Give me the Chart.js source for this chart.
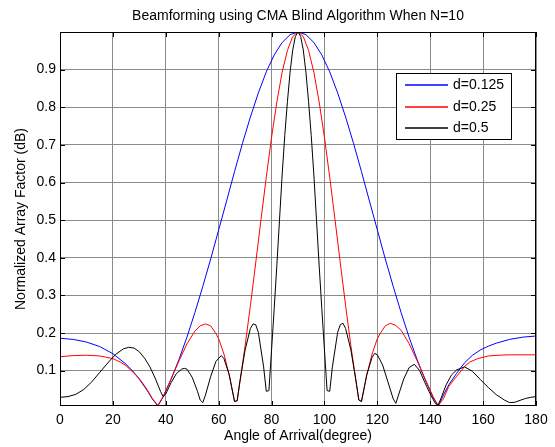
<!DOCTYPE html>
<html>
<head>
<meta charset="utf-8">
<title>Beamforming using CMA Blind Algorithm</title>
<script src="https://cdn.jsdelivr.net/npm/chart.js@4.4.1/dist/chart.umd.min.js"></script>
<style>
  html, body { margin: 0; padding: 0; background: #fff; }
  canvas { display: block; background: #fff; }
</style>
</head>
<body>
<canvas id="beamChart" width="555" height="447"></canvas>
<script>
// values (angle in degrees, normalized array factor)
const blueAngles = [0, 5, 10, 15, 20, 25, 28, 30, 33, 35, 37, 39, 42, 45, 48, 51, 54, 57, 60, 63,
  66, 69, 72, 75, 78, 81, 84, 87, 90, 93, 96, 99, 102, 105, 108, 111, 114, 117, 120, 123,
  126, 129, 132, 135, 138, 141, 143, 145, 147, 150, 153, 156, 159, 162, 165, 170, 175, 180];
const blueValues = [0.186, 0.183, 0.176, 0.164, 0.145, 0.117, 0.095, 0.077, 0.047, 0.024,
  0.006, 0.030, 0.077, 0.130, 0.189, 0.254, 0.324, 0.397, 0.474, 0.551,
  0.629, 0.704, 0.774, 0.838, 0.894, 0.939, 0.972, 0.993, 1.0, 0.993,
  0.972, 0.939, 0.894, 0.838, 0.774, 0.704, 0.629, 0.551, 0.474, 0.397,
  0.324, 0.254, 0.189, 0.130, 0.077, 0.030, 0.006, 0.035, 0.062, 0.093,
  0.121, 0.141, 0.155, 0.165, 0.173, 0.183, 0.189, 0.192];

const redAngles = [0, 5, 10, 15, 20, 23, 25, 28, 30, 33, 35, 37, 39, 42, 45, 48, 51, 53, 55, 57,
  59, 60, 62, 64, 66, 67, 68, 70, 72, 74, 76, 78, 80, 82, 84, 86, 88, 90, 92, 94,
  96, 98, 100, 102, 104, 106, 108, 110, 112, 113, 114, 116, 118, 120, 121, 123, 125, 127, 129, 132,
  135, 138, 141, 143, 145, 147, 150, 153, 155, 158, 162, 166, 170, 175, 180];
const redValues = [0.137, 0.140, 0.141, 0.139, 0.132, 0.122, 0.113, 0.093, 0.079, 0.049,
  0.025, 0.008, 0.031, 0.078, 0.126, 0.171, 0.205, 0.219, 0.224, 0.219,
  0.198, 0.185, 0.144, 0.088, 0.018, 0.020, 0.068, 0.166, 0.273, 0.386,
  0.501, 0.614, 0.720, 0.814, 0.893, 0.951, 0.988, 1.0, 0.988, 0.951,
  0.893, 0.814, 0.720, 0.614, 0.501, 0.386, 0.273, 0.166, 0.068, 0.022,
  0.018, 0.088, 0.144, 0.185, 0.198, 0.219, 0.226, 0.220, 0.207, 0.172,
  0.127, 0.079, 0.032, 0.007, 0.025, 0.058, 0.085, 0.111, 0.123, 0.132,
  0.139, 0.141, 0.142, 0.142, 0.142];

const blackAngles = [0, 3, 6, 9, 12, 15, 18, 21, 24, 26, 28, 30, 32, 34, 36, 38, 39, 40, 42, 44,
  46, 47, 48, 50, 52, 53, 54, 55, 57, 59, 61, 62, 64, 66, 67, 68, 70, 72, 73, 74,
  75, 77, 78, 79, 80, 81, 82, 83, 84, 85, 86, 87, 88, 89, 90, 91, 92, 93, 94, 95,
  96, 97, 98, 99, 100, 101, 102, 103, 105, 106, 107, 108, 110, 112, 113, 114, 116, 118, 119, 120,
  122, 124, 126, 127, 128, 130, 132, 134, 136, 138, 140, 142, 143, 144, 146, 148, 150, 153, 156, 159,
  162, 165, 168, 170, 172, 174, 176, 178, 180];
const blackValues = [0.029, 0.031, 0.037, 0.050, 0.070, 0.095, 0.120, 0.143, 0.158, 0.162,
  0.160, 0.150, 0.133, 0.110, 0.080, 0.045, 0.031, 0.038, 0.068, 0.092,
  0.104, 0.106, 0.104, 0.082, 0.045, 0.022, 0.015, 0.035, 0.085, 0.125,
  0.140, 0.132, 0.089, 0.018, 0.020, 0.070, 0.155, 0.212, 0.224, 0.222,
  0.202, 0.110, 0.045, 0.047, 0.155, 0.265, 0.380, 0.500, 0.620, 0.725,
  0.815, 0.893, 0.952, 0.988, 1.0, 0.988, 0.952, 0.893, 0.815, 0.725,
  0.620, 0.500, 0.380, 0.265, 0.155, 0.047, 0.045, 0.110, 0.202, 0.222,
  0.226, 0.212, 0.155, 0.070, 0.022, 0.018, 0.089, 0.135, 0.146, 0.142,
  0.115, 0.070, 0.025, 0.013, 0.035, 0.078, 0.108, 0.117, 0.100, 0.068,
  0.038, 0.012, 0.009, 0.025, 0.062, 0.088, 0.102, 0.110, 0.098, 0.076,
  0.055, 0.036, 0.022, 0.015, 0.016, 0.021, 0.026, 0.029, 0.031];

const seriesLabels = ["d=0.125", "d=0.25", "d=0.5"];
const seriesColors = ["rgb(0, 0, 255)", "rgb(255, 0, 0)", "rgb(0, 0, 0)"];
const yTickValues = [0.1, 0.2, 0.3, 0.4, 0.5, 0.6, 0.7, 0.8, 0.9];
const chartTitle = "Beamforming using CMA Blind Algorithm When N=10";

function toPoints(angles, values) {
  return angles.map((a, i) => ({ x: a, y: values[i] }));
}

const fontFamily = "'Liberation Sans', Arial, sans-serif";
Chart.defaults.font.family = fontFamily;
Chart.defaults.font.size = 14;
Chart.defaults.color = "#000";

// MATLAB style box with inward tick marks on all four sides, title centred over the axes
const boxPlugin = {
  id: "box",
  afterDatasetsDraw(chart) {
    const { ctx, chartArea: a, scales } = chart;
    ctx.save();
    ctx.strokeStyle = "#000";
    ctx.lineWidth = 1;
    ctx.beginPath();
    scales.x.ticks.forEach((t) => {
      const px = Math.round(scales.x.getPixelForValue(t.value)) + 0.5;
      ctx.moveTo(px, a.bottom); ctx.lineTo(px, a.bottom - 5);
      ctx.moveTo(px, a.top); ctx.lineTo(px, a.top + 5);
    });
    scales.y.ticks.forEach((t) => {
      const py = Math.round(scales.y.getPixelForValue(t.value)) + 0.5;
      ctx.moveTo(a.left, py); ctx.lineTo(a.left + 5, py);
      ctx.moveTo(a.right, py); ctx.lineTo(a.right - 5, py);
    });
    ctx.stroke();
    ctx.strokeRect(Math.round(a.left) + 0.5, Math.round(a.top) + 0.5,
      Math.round(a.right - a.left) - 1, Math.round(a.bottom - a.top) - 1);

    ctx.fillStyle = "#000";
    ctx.font = "14px " + fontFamily;
    ctx.textAlign = "center";
    ctx.textBaseline = "middle";
    ctx.fillText(chartTitle, (a.left + a.right) / 2, a.top - 16);
    ctx.restore();
  },
};

// legend box inside the plot, upper right
const legendBoxPlugin = {
  id: "legendBox",
  afterDraw(chart) {
    const { ctx, chartArea: a } = chart;
    const x0 = a.right - 140, y0 = a.top + 41, w = 115, h = 66;
    ctx.save();
    ctx.fillStyle = "#fff";
    ctx.fillRect(x0, y0, w, h);
    ctx.lineWidth = 1;
    ctx.strokeStyle = "#000";
    ctx.strokeRect(x0 + 0.5, y0 + 0.5, w, h);
    ctx.font = "14px " + fontFamily;
    ctx.textBaseline = "middle";
    ctx.textAlign = "left";
    seriesLabels.forEach((label, i) => {
      const y = Math.round(y0 + 12 + i * 21.7);
      ctx.beginPath();
      ctx.strokeStyle = seriesColors[i];
      ctx.lineWidth = 1.3;
      ctx.moveTo(x0 + 9, y);
      ctx.lineTo(x0 + 52, y);
      ctx.stroke();
      ctx.fillStyle = "#000";
      ctx.fillText(label, x0 + 57, y + 0.5);
    });
    ctx.restore();
  },
};

new Chart(document.getElementById("beamChart"), {
  type: "line",
  data: {
    datasets: [
      { label: seriesLabels[0], data: toPoints(blueAngles, blueValues), borderColor: seriesColors[0], order: 2 },
      { label: seriesLabels[1], data: toPoints(redAngles, redValues), borderColor: seriesColors[1], order: 1 },
      { label: seriesLabels[2], data: toPoints(blackAngles, blackValues), borderColor: seriesColors[2], order: 0 },
    ],
  },
  options: {
    responsive: false,
    animation: false,
    devicePixelRatio: 1,
    layout: { padding: { left: 0, right: 19, top: 32, bottom: 0 } },
    elements: {
      line: { borderWidth: 1, tension: 0, fill: false },
      point: { radius: 0, hoverRadius: 0 },
    },
    plugins: {
      legend: { display: false },
      tooltip: { enabled: false },
      title: { display: false },
    },
    scales: {
      x: {
        type: "linear",
        min: 0,
        max: 180,
        ticks: { stepSize: 20, padding: 6, maxRotation: 0 },
        grid: { color: "#8a8a8a", drawTicks: false },
        border: { display: false },
        title: { display: true, text: "Angle of Arrival(degree)", padding: { top: 0, bottom: 2 } },
        afterFit(scale) { scale.height = 41; },
      },
      y: {
        type: "linear",
        min: 0.006,
        max: 1.0,
        afterBuildTicks(scale) { scale.ticks = yTickValues.map((v) => ({ value: v })); },
        ticks: { padding: 4, callback: (v) => v.toFixed(1) },
        grid: { color: "#8a8a8a", drawTicks: false },
        border: { display: false },
        title: { display: true, text: "Normalized Array Factor (dB)", padding: { top: 13, bottom: 0 } },
        afterFit(scale) { scale.width = 60; },
      },
    },
  },
  plugins: [boxPlugin, legendBoxPlugin],
});
</script>
</body>
</html>
